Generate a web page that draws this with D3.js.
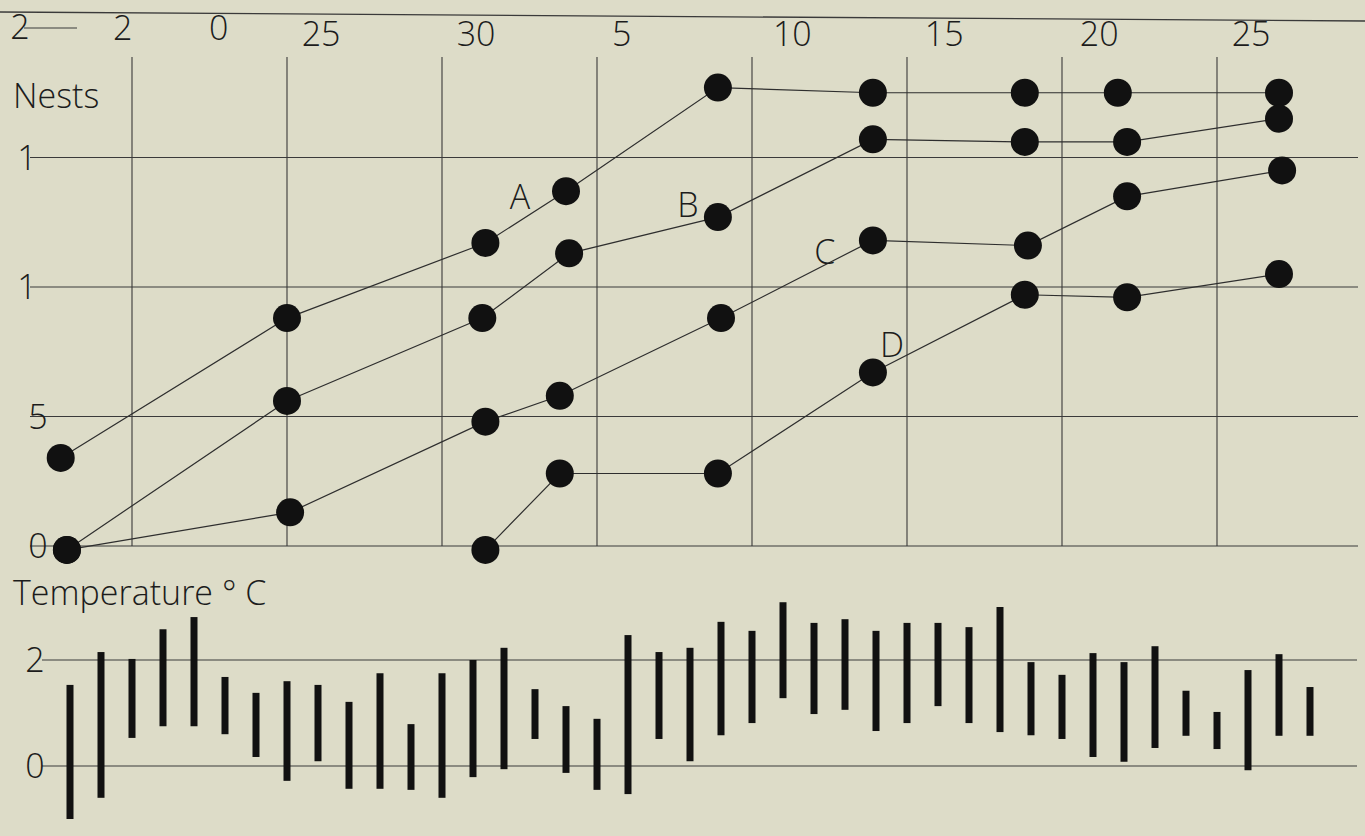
<!DOCTYPE html>
<html>
<head>
<meta charset="utf-8">
<script src="https://cdn.jsdelivr.net/npm/d3@7"></script>
<style>
  html, body { margin: 0; padding: 0; background: #dddcc8; }
  svg { display: block; }
  text { font-family: "Open Sans", "DejaVu Sans", sans-serif; font-weight: 300; fill: #1c1c1c; }
</style>
</head>
<body>
<svg id="chart" width="1365" height="836"></svg>
<script>
// ---------- data ----------
// x tick labels (as printed) and the day positions they sit at
const xTickLabels = ["2", "0", "25", "30", "5", "10", "15", "20", "25"];
const xTickDays   = [18.7, 21.8, 25.1, 30.1, 34.8, 40.3, 45.2, 50.2, 55.1];
// vertical grid days
const gridDays = [19, 24, 29, 34, 39, 44, 49, 54];

// nests axis
const nestTicks = [0, 5, 10, 15, 20];
const nestTickLabels = ["0", "5", "1", "1", "2"];

// nest series (day, cumulative nests)
const seriesNames = ["A", "B", "C", "D"];
const daysA  = [16.7, 24.0, 30.4, 33.0, 37.9, 42.9, 47.8, 50.8, 56.0];
const nestsA = [3.4, 8.8, 11.7, 13.7, 17.7, 17.5, 17.5, 17.5, 17.5];
const daysB  = [16.9, 24.0, 30.3, 33.1, 37.9, 42.9, 47.8, 51.1, 56.0];
const nestsB = [-0.15, 5.6, 8.8, 11.3, 12.7, 15.7, 15.6, 15.6, 16.5];
const daysC  = [16.9, 24.1, 30.4, 32.8, 38.0, 42.9, 47.9, 51.1, 56.1];
const nestsC = [-0.15, 1.3, 4.8, 5.8, 8.8, 11.8, 11.6, 13.5, 14.5];
const daysD  = [30.4, 32.8, 37.9, 42.9, 47.8, 51.1, 56.0];
const nestsD = [-0.15, 2.8, 2.8, 6.7, 9.7, 9.6, 10.5];
// which point of each series carries its letter
const labelPointIndex = [3, 4, 5, 3];

// temperature (daily min / max, deg C)
const tempTicks = [0, 20];
const tempTickLabels = ["0", "2"];
const tempDays = [17,18,19,20,21,22,23,24,25,26,27,28,29,30,31,32,33,34,35,36,37,
                  38,39,40,41,42,43,44,45,46,47,48,49,50,51,52,53,54,55,56,57];
const tempMax = [15.3,21.5,20.2,25.8,28.1,16.8,13.8,16.0,15.3,12.1,17.5,7.9,17.5,20.0,22.3,14.5,11.3,8.9,24.7,21.5,22.3,
                 27.2,25.5,30.9,27.0,27.7,25.5,27.0,27.0,26.2,30.0,19.6,17.2,21.3,19.6,22.6,14.2,10.2,18.1,21.1,14.9];
const tempMin = [-10.0,-6.0,5.3,7.5,7.5,6.0,1.7,-2.8,0.9,-4.3,-4.3,-4.5,-6.0,-2.1,-0.6,5.1,-1.3,-4.5,-5.3,5.1,0.9,
                 5.8,8.1,12.8,9.8,10.6,6.6,8.1,11.3,8.1,6.4,5.8,5.1,1.7,0.8,3.4,5.7,3.2,-0.8,5.7,5.7];

// ---------- scales ----------
const x  = d3.scaleLinear().domain([24, 54]).range([287, 1217]);
const yN = d3.scaleLinear().domain([0, 20]).range([546, 28]);
const yT = d3.scaleLinear().domain([0, 20]).range([766, 660]);

const svg = d3.select("#chart");
const FS = 34;

// top frame line
svg.append("line").attr("x1", 0).attr("y1", 12).attr("x2", 1365).attr("y2", 21)
  .attr("stroke", "#3a3a3a").attr("stroke-width", 1.3);

// ---------- nests panel grid ----------
const gN = svg.append("g");
gN.selectAll("line.h").data(nestTicks.filter(v => v < 20)).join("line")
  .attr("class", "h")
  .attr("x1", 30).attr("x2", 1358)
  .attr("y1", d => yN(d)).attr("y2", d => yN(d))
  .attr("stroke", "#3a3a3a").attr("stroke-width", 1.1);
// short tick for top value
gN.selectAll("line.t").data(nestTicks.filter(v => v === 20)).join("line")
  .attr("class", "t")
  .attr("x1", 24).attr("x2", 77)
  .attr("y1", d => yN(d)).attr("y2", d => yN(d))
  .attr("stroke", "#3a3a3a").attr("stroke-width", 1.1);

gN.selectAll("line.v").data(gridDays).join("line")
  .attr("class", "v")
  .attr("x1", d => x(d)).attr("x2", d => x(d))
  .attr("y1", 57).attr("y2", yN(0))
  .attr("stroke", "#3a3a3a").attr("stroke-width", 1.1);

gN.selectAll("text.yl").data(nestTicks).join("text")
  .attr("class", "yl")
  .attr("x", (d, i) => d === 20 ? 20 : (nestTickLabels[i] === "1" ? 27 : 38))
  .attr("y", d => yN(d))
  .attr("dy", d => d === 20 ? "0.32em" : "0.36em")
  .attr("text-anchor", "middle")
  .attr("font-size", FS)
  .text((d, i) => nestTickLabels[i]);

svg.selectAll("text.xl").data(xTickDays).join("text")
  .attr("class", "xl")
  .attr("x", d => x(d))
  .attr("y", (d, i) => i < 2 ? 40 : 46)
  .attr("text-anchor", "middle")
  .attr("font-size", FS)
  .text((d, i) => xTickLabels[i]);

svg.append("text").attr("x", 13).attr("y", 108).attr("font-size", FS).text("Nests");

// ---------- nest series ----------
const allDays = [daysA, daysB, daysC, daysD];
const allNests = [nestsA, nestsB, nestsC, nestsD];
const series = seriesNames.map((name, s) => ({
  name,
  pts: allDays[s].map((d, i) => ({ day: d, n: allNests[s][i] }))
}));

const line = d3.line().x(p => x(p.day)).y(p => yN(p.n));
svg.append("g").selectAll("path").data(series).join("path")
  .attr("d", s => line(s.pts))
  .attr("fill", "none").attr("stroke", "#2e2e2e").attr("stroke-width", 1.2);

svg.append("g").selectAll("g").data(series).join("g")
  .selectAll("circle").data(s => s.pts).join("circle")
  .attr("cx", p => x(p.day)).attr("cy", p => yN(p.n))
  .attr("r", 14).attr("fill", "#111");

const labelOffsets = [[-46, 6], [-30, -12], [-48, 11], [19, -28]];
svg.append("g").selectAll("text").data(series).join("text")
  .attr("x", (s, i) => x(s.pts[labelPointIndex[i]].day) + labelOffsets[i][0])
  .attr("y", (s, i) => yN(s.pts[labelPointIndex[i]].n) + labelOffsets[i][1])
  .attr("dy", "0.36em")
  .attr("text-anchor", "middle")
  .attr("font-size", FS)
  .text(s => s.name);

// ---------- temperature panel ----------
svg.append("text").attr("x", 13).attr("y", 605).attr("font-size", FS).text("Temperature ° C");

const gT = svg.append("g");
gT.selectAll("line").data(tempTicks).join("line")
  .attr("x1", 42).attr("x2", 1357)
  .attr("y1", d => yT(d)).attr("y2", d => yT(d))
  .attr("stroke", "#3a3a3a").attr("stroke-width", 1.1);
gT.selectAll("text").data(tempTicks).join("text")
  .attr("x", 35).attr("y", d => yT(d)).attr("dy", "0.36em")
  .attr("text-anchor", "middle").attr("font-size", FS)
  .text((d, i) => tempTickLabels[i]);

const barW = 7;
svg.append("g").selectAll("rect").data(tempDays).join("rect")
  .attr("x", d => x(d) - barW / 2)
  .attr("width", barW)
  .attr("y", (d, i) => yT(tempMax[i]))
  .attr("height", (d, i) => yT(tempMin[i]) - yT(tempMax[i]))
  .attr("fill", "#111");
</script>
</body>
</html>
